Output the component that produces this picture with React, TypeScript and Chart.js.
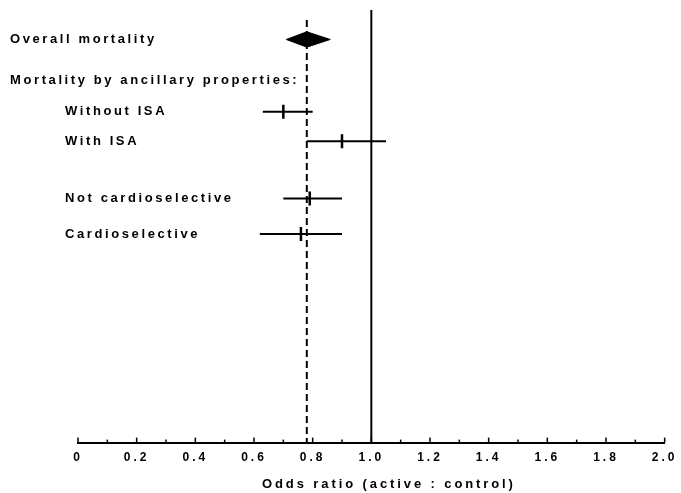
import React, { useEffect, useRef } from "react";
import { Chart, registerables } from "chart.js";

Chart.register(...registerables);

// ---- data ----
const overallLabel = "Overall mortality";
const overallRow = 1.0;
const overallLow = 0.71;
const overallEst = 0.78;
const overallHigh = 0.86;

const headingLabel = "Mortality by ancillary properties:";
const headingRow = 2.4;

const groupLabels = ["Without ISA", "With ISA", "Not cardioselective", "Cardioselective"];
const groupRow = [3.45, 4.45, 6.4, 7.6];
const groupLow = [0.63, 0.78, 0.7, 0.62];
const groupEst = [0.7, 0.9, 0.79, 0.76];
const groupHigh = [0.8, 1.05, 0.9, 0.9];

const xMin = 0;
const xMax = 2;
const xStep = 0.1;
const nullValue = 1.0;
const xTitle = "Odds ratio (active : control)";

const rowMin = 0;
const rowMax = 14.68;
const pooledLineTop = 0.34;
const diamondHalf = 0.26;

// ---- style ----
const FONT_FAMILY = '"Liberation Sans", Arial, sans-serif';
const FONT = `bold 13px ${FONT_FAMILY}`;
const SPACING = "2.6px";
const TICK_SPACING = "3px";
const INK = "#000";

const forestPlugin = {
  id: "forestText",
  beforeDraw(chart: any) {
    chart.ctx.letterSpacing = TICK_SPACING;
  },
  afterDraw(chart: any) {
    const { ctx, chartArea, scales } = chart;
    const xs = scales.x;
    const ys = scales.y;
    ctx.save();
    ctx.letterSpacing = "0px";
    ctx.strokeStyle = INK;
    ctx.lineWidth = 1.5;
    xs.ticks.forEach((t: any) => {
      const px = xs.getPixelForValue(t.value);
      const major = Math.round(t.value * 10) % 2 === 0;
      ctx.beginPath();
      ctx.moveTo(px, chartArea.bottom);
      ctx.lineTo(px, chartArea.bottom - (major ? 5 : 3));
      ctx.stroke();
    });
    ctx.letterSpacing = SPACING;
    ctx.font = FONT;
    ctx.fillStyle = INK;
    ctx.textBaseline = "middle";
    ctx.textAlign = "left";
    ctx.fillText(overallLabel, 10, ys.getPixelForValue(overallRow));
    ctx.fillText(headingLabel, 10, ys.getPixelForValue(headingRow));
    groupLabels.forEach((lab, i) => {
      ctx.fillText(lab, 65, ys.getPixelForValue(groupRow[i]));
    });
    ctx.letterSpacing = "2.9px";
    ctx.fillText(xTitle, chartArea.left + 184, 484);
    ctx.restore();
    ctx.letterSpacing = "0px";
  },
};

export default function App() {
  const ref = useRef<HTMLCanvasElement>(null);
  useEffect(() => {
    if (!ref.current) return;
    const lineDefaults = {
      showLine: true,
      borderColor: INK,
      backgroundColor: INK,
      pointRadius: 0,
      borderWidth: 2,
      fill: false,
    };
    const datasets: any[] = [
      {
        ...lineDefaults,
        data: [
          { x: nullValue, y: rowMin },
          { x: nullValue, y: rowMax },
        ],
      },
      {
        ...lineDefaults,
        borderDash: [7, 4],
        data: [
          { x: overallEst, y: pooledLineTop },
          { x: overallEst, y: rowMax },
        ],
      },
      {
        ...lineDefaults,
        borderWidth: 1,
        fill: "shape",
        data: [
          { x: overallLow, y: overallRow },
          { x: overallEst, y: overallRow - diamondHalf },
          { x: overallHigh, y: overallRow },
          { x: overallEst, y: overallRow + diamondHalf },
          { x: overallLow, y: overallRow },
        ],
      },
      ...groupLabels.map((_, i) => ({
        ...lineDefaults,
        data: [
          { x: groupLow[i], y: groupRow[i] },
          { x: groupHigh[i], y: groupRow[i] },
        ],
      })),
      {
        showLine: false,
        borderColor: INK,
        backgroundColor: INK,
        pointStyle: "line",
        rotation: 90,
        pointRadius: 7,
        borderWidth: 2.5,
        data: groupLabels.map((_, i) => ({ x: groupEst[i], y: groupRow[i] })),
      },
    ];

    const chart = new Chart(ref.current, {
      type: "scatter",
      data: { datasets },
      plugins: [forestPlugin],
      options: {
        animation: false,
        responsive: false,
        events: [],
        layout: { padding: { left: 78, right: 13, top: 10, bottom: 20 } },
        plugins: { legend: { display: false }, tooltip: { enabled: false } },
        scales: {
          x: {
            type: "linear",
            position: "bottom",
            min: xMin,
            max: xMax,
            grid: { display: false, drawTicks: false },
            border: { display: true, color: INK, width: 2 },
            ticks: {
              stepSize: xStep,
              autoSkip: false,
              maxRotation: 0,
              padding: 8,
              color: INK,
              font: { family: FONT_FAMILY, size: 12, weight: "bold" },
              callback: (v: any) => {
                const n = Number(v);
                if (Math.round(n * 10) % 2 !== 0) return "";
                return n === 0 ? "0" : n.toFixed(1);
              },
            },
          },
          y: {
            type: "linear",
            display: false,
            reverse: true,
            min: rowMin,
            max: rowMax,
          },
        },
      } as any,
    });
    return () => chart.destroy();
  }, []);

  return (
    <div style={{ position: "absolute", left: 0, top: 0, width: 681, height: 493, background: "#fff" }}>
      <canvas ref={ref} width={681} height={493} style={{ display: "block" }} />
    </div>
  );
}
